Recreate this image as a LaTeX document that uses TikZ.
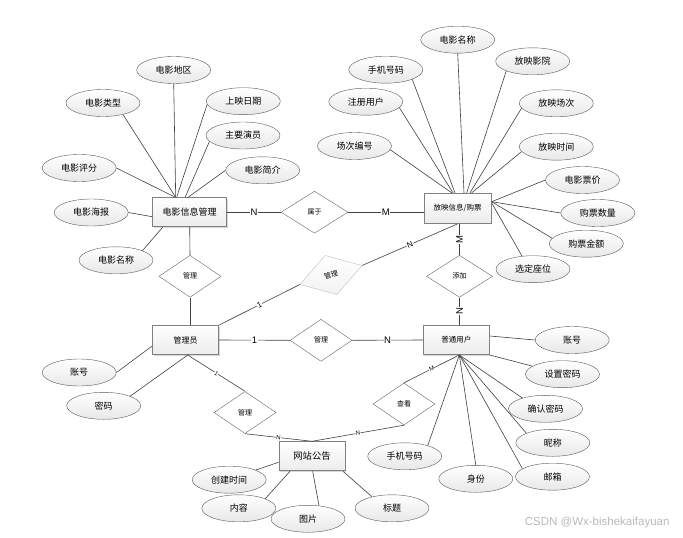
\documentclass[tikz,border=0pt]{standalone}
\usepackage{fontspec}
\setmainfont{Noto Sans CJK SC}
\newfontfamily\latinfont{Liberation Sans}
\usetikzlibrary{shapes, shadows}

\begin{document}
\begin{tikzpicture}[x=1pt, y=-1pt,
    attr/.style = {ellipse, draw=black!65, top color=white, bottom color=gray!18,
      minimum width=74pt, minimum height=27pt, inner sep=0pt,
      font=\fontsize{9}{10}\selectfont},
    entity/.style = {rectangle, draw=black!50, line width=1pt, top color=white,
      bottom color=gray!15, minimum width=66pt, minimum height=29pt, inner sep=0pt,
      drop shadow={shadow xshift=1pt, shadow yshift=-1pt, opacity=0.3}},
    rel/.style = {diamond, draw=black!60, fill=white, minimum width=62pt,
      minimum height=42pt, inner sep=0pt, font=\fontsize{7}{8}\selectfont},
    card/.style = {fill=white, inner sep=0.5pt, font=\latinfont\fontsize{9.5}{10}\selectfont},
    smallcard/.style = {fill=white, inner sep=0.3pt, sloped,
      font=\latinfont\fontsize{6}{7}\selectfont},
    link/.style = {draw=black!75, line width=0.6pt}]

  \path[fill=white, use as bounding box] (0,0) rectangle (683,538);

  % entities
  \node[entity, minimum width=74pt, font=\fontsize{9}{10}\selectfont] (movie) at (189.7,212.2) {电影信息管理};
  \node[entity, minimum width=67pt, minimum height=30pt, font=\fontsize{7.5}{8}\selectfont] (show) at (457.7,208.3) {放映信息/购票};
  \node[entity, font=\fontsize{8}{9}\selectfont] (admin) at (185.7,340) {管理员};
  \node[entity, font=\fontsize{7.5}{8}\selectfont] (user) at (456.3,340) {普通用户};
  \node[entity, font=\fontsize{9.3}{10}\selectfont] (notice) at (312,456.3) {网站公告};

  % relations
  \node[rel, minimum width=67pt] (belong) at (314.5,212.2) {属于};
  \node[rel] (mgmovie) at (190,276.3) {管理};
  \node[rel, minimum width=65pt, minimum height=41pt, rotate=17, draw=black!25,
    top color=white, bottom color=gray!10] (mgshow) at (331,275) {管理};
  \node[rel, minimum width=66pt] (add) at (459.5,276.3) {添加};
  \node[rel] (mguser) at (321,340.3) {管理};
  \node[rel] (mgnotice) at (245,412.5) {管理};
  \node[rel] (view) at (404,404) {查看};

  \draw[link] (movie.east) -- node[card]{N} (belong.west);
  \draw[link] (belong.east) -- node[card]{M} (belong.east -| show.west);
  \draw[link] (movie.south) -- (mgmovie.north);
  \draw[link] (mgmovie.south) -- (mgmovie.south |- admin.north);
  \draw[link] (admin.north east) -- node[card, sloped, font=\latinfont\fontsize{8}{9}\selectfont]{1} (mgshow.west);
  \draw[link] (mgshow.east) -- node[card, sloped, font=\latinfont\fontsize{8}{9}\selectfont]{N} (show.south);
  \draw[link] (add.north |- show.south) -- node[card, rotate=90]{M} (add.north);
  \draw[link] (add.south) -- node[card, rotate=90]{N} (add.south |- user.north);
  \draw[link] (admin.east) -- node[card]{1} (mguser.west);
  \draw[link] (mguser.east) -- node[card]{N} (user.west);
  \draw[link] ([xshift=2pt]admin.south) -- node[smallcard]{1} (mgnotice.north);
  \draw[link] (mgnotice.south) -- node[smallcard]{N} (notice.north);
  \draw[link] ([xshift=3pt]user.south) -- node[smallcard]{M} (view.north);
  \draw[link] (view.south) -- node[smallcard]{N} (notice.north);

  % movie attributes
  \node[attr] (area) at (173.7,70) {电影地区};
  \node[attr] (genre) at (103,103) {电影类型};
  \node[attr] (release) at (243.3,101.2) {上映日期};
  \node[attr] (actor) at (243,135.5) {主要演员};
  \node[attr] (score) at (79.2,168) {电影评分};
  \node[attr] (intro) at (262.7,170.3) {电影简介};
  \node[attr] (poster) at (91.2,212.5) {电影海报};
  \node[attr] (mname) at (116,260.3) {电影名称};

  \draw[link] (area.south) -- ([xshift=-14pt]movie.north);
  \draw[link] (genre.-30) -- ([xshift=-14pt]movie.north);
  \draw[link] (release.185) -- ([xshift=-13pt]movie.north);
  \draw[link] (actor.190) -- ([xshift=-4.5pt]movie.north);
  \draw[link] (score.east) -- ([xshift=-14.5pt]movie.north);
  \draw[link] (intro.west) -- ([xshift=-1.5pt]movie.north);
  \draw[link] (poster.east) -- ([yshift=-4.5pt]movie.west);
  \draw[link] (mname.20) -- ([xshift=-27pt]movie.south);

  % show attributes
  \node[attr] (sname) at (457.7,39.7) {电影名称};
  \node[attr] (sphone) at (385.8,69.7) {手机号码};
  \node[attr] (cinema) at (532.7,61.3) {放映影院};
  \node[attr] (reguser) at (365.8,101.7) {注册用户};
  \node[attr] (session) at (556.3,103.3) {放映场次};
  \node[attr] (sessno) at (354.5,146) {场次编号};
  \node[attr] (stime) at (556.3,146.7) {放映时间};
  \node[attr] (price) at (582.5,180) {电影票价};
  \node[attr] (count) at (597.8,213) {购票数量};
  \node[attr] (amount) at (586.3,243.7) {购票金额};
  \node[attr] (seat) at (533,269.2) {选定座位};

  \draw[link] (sname.south) -- ([xshift=6.3pt]show.north);
  \draw[link] (sphone.-20) -- ([xshift=-2.7pt]show.north);
  \draw[link] (cinema.200) -- ([xshift=9pt]show.north);
  \draw[link] (reguser.-10) -- ([xshift=-4.7pt]show.north);
  \draw[link] (session.188) -- ([xshift=12.3pt]show.north);
  \draw[link] (sessno.-6) -- ([xshift=-6pt]show.north);
  \draw[link] (stime.188) -- ([xshift=14pt]show.north);
  \draw[link] (price.west) -- ([yshift=6.6pt]show.east);
  \draw[link] (count.west) -- ([yshift=6.6pt]show.east);
  \draw[link] (amount.171) -- ([yshift=6.6pt]show.east);
  \draw[link] (seat.130) -- ([yshift=5.3pt]show.east);

  % admin attributes
  \node[attr] (aacc) at (79.2,372.5) {账号};
  \node[attr] (apwd) at (103.7,405.8) {密码};

  \draw[link] (aacc.east) -- ([yshift=-6pt]admin.west);
  \draw[link] (apwd.20) -- ([xshift=2pt]admin.south);

  % user attributes
  \node[attr] (uacc) at (572.2,340) {账号};
  \node[attr] (upwd) at (562.5,374.2) {设置密码};
  \node[attr] (ucfm) at (545.5,408.8) {确认密码};
  \node[attr] (unick) at (552.8,442.8) {昵称};
  \node[attr] (umail) at (552.5,476.7) {邮箱};
  \node[attr] (urole) at (475.8,478.8) {身份};
  \node[attr] (uphone) at (404.7,456.3) {手机号码};

  \draw[link] (uacc.west) -- ([yshift=4pt]user.east);
  \draw[link] (upwd.165) -- (user.south east);
  \draw[link] (ucfm.155) -- ([xshift=3pt]user.south);
  \draw[link] (unick.160) -- ([xshift=3pt]user.south);
  \draw[link] (umail.165) -- ([xshift=3pt]user.south);
  \draw[link] (urole.north) -- ([xshift=3pt]user.south);
  \draw[link] (uphone.25) -- ([xshift=3pt]user.south);

  % notice attributes
  \node[attr] (ctime) at (229.2,479.7) {创建时间};
  \node[attr] (content) at (238.8,508.3) {内容};
  \node[attr] (pic) at (308,518.8) {图片};
  \node[attr] (title) at (392,508.3) {标题};

  \draw[link] (ctime.20) -- ([yshift=-6pt]notice.west);
  \draw[link] (content.20) -- ([xshift=-22pt]notice.south);
  \draw[link] (pic.50) -- ([xshift=0.7pt]notice.south);
  \draw[link] (title.150) -- ([xshift=31pt]notice.south);

  \node[anchor=east, text=gray!55, font=\latinfont\fontsize{11.5}{12}\selectfont] (mark) at (673,523) {CSDN @Wx-bishekaifayuan};
\end{tikzpicture}
\end{document}
